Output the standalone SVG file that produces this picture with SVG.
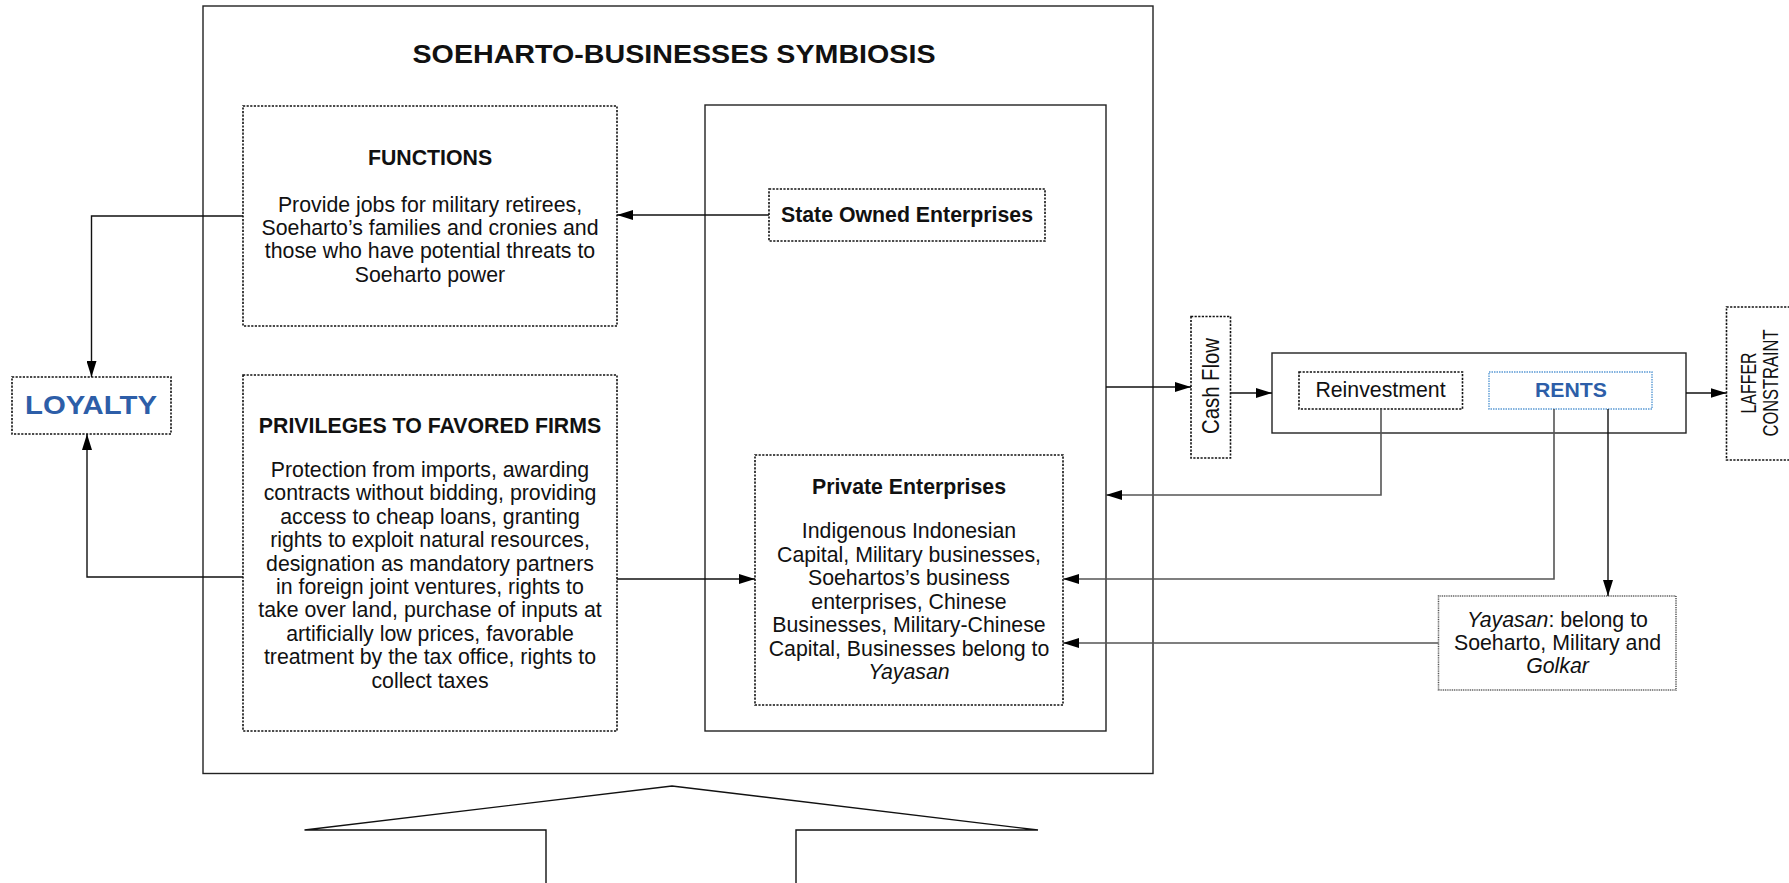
<svg xmlns="http://www.w3.org/2000/svg" width="1789" height="883" viewBox="0 0 1789 883">
<style>
text{font-family:"Liberation Sans",Arial,sans-serif;fill:#111;}
.t{font-size:21.3px;text-anchor:middle;}
.b{font-weight:bold;}
.blue{fill:#2d5ea8;}
.solid{fill:#fff;stroke:#222;stroke-width:1.4;}
.dot{fill:#fff;stroke:#111;stroke-width:1.6;stroke-dasharray:2.2 1.4;}
.dotb{fill:#fff;stroke:#5b9bd5;stroke-width:1.4;stroke-dasharray:1.5 1;}
.dotg{fill:#fff;stroke:#555;stroke-width:1.5;stroke-dasharray:1 0.8;}
.c{fill:none;stroke:#111;stroke-width:1.4;}
.cg{fill:none;stroke:#555;stroke-width:1.6;}
</style>
<defs>
<marker id="arr" markerWidth="16" markerHeight="10" refX="16" refY="5" orient="auto" markerUnits="userSpaceOnUse">
<path d="M0,0 L16,5 L0,10 z" fill="#000"/>
</marker>
</defs>
<rect width="1789" height="883" fill="#fff"/>

<g id="symbiosis">
<rect class="solid" x="203" y="6" width="950" height="767.5"/>
<text class="t b" x="674" y="63" style="font-size:26px" textLength="523" lengthAdjust="spacingAndGlyphs">SOEHARTO-BUSINESSES SYMBIOSIS</text>
</g>

<g id="enterprises">
<rect class="solid" x="705" y="105" width="401" height="626"/>
</g>

<g id="functions">
<rect class="dot" x="243" y="106" width="374" height="220"/>
<text class="t b" x="430" y="165">FUNCTIONS</text>
<text class="t" x="430" y="211.5">Provide jobs for military retirees,</text>
<text class="t" x="430" y="234.9">Soeharto’s families and cronies and</text>
<text class="t" x="430" y="258.3">those who have potential threats to</text>
<text class="t" x="430" y="281.7">Soeharto power</text>
</g>

<g id="privileges">
<rect class="dot" x="243" y="375" width="374" height="356"/>
<text class="t b" x="430" y="432.5">PRIVILEGES TO FAVORED FIRMS</text>
<text class="t" x="430" y="477">Protection from imports, awarding</text>
<text class="t" x="430" y="500.4">contracts without bidding, providing</text>
<text class="t" x="430" y="523.8">access to cheap loans, granting</text>
<text class="t" x="430" y="547.2">rights to exploit natural resources,</text>
<text class="t" x="430" y="570.6">designation as mandatory partners</text>
<text class="t" x="430" y="594">in foreign joint ventures, rights to</text>
<text class="t" x="430" y="617.4">take over land, purchase of inputs at</text>
<text class="t" x="430" y="640.8">artificially low prices, favorable</text>
<text class="t" x="430" y="664.2">treatment by the tax office, rights to</text>
<text class="t" x="430" y="687.6">collect taxes</text>
</g>

<g id="loyalty">
<rect class="dot" x="12" y="377" width="159" height="57"/>
<text class="t b blue" x="91" y="414" style="font-size:26.5px" textLength="132" lengthAdjust="spacingAndGlyphs">LOYALTY</text>
</g>

<g id="soe">
<rect class="dot" x="769" y="189" width="276" height="52"/>
<text class="t b" x="907" y="221.5">State Owned Enterprises</text>
</g>

<g id="private">
<rect class="dot" x="755" y="455" width="308" height="250"/>
<text class="t b" x="909" y="493.5">Private Enterprises</text>
<text class="t" x="909" y="538">Indigenous Indonesian</text>
<text class="t" x="909" y="561.5">Capital, Military businesses,</text>
<text class="t" x="909" y="585">Soehartos’s business</text>
<text class="t" x="909" y="608.5">enterprises, Chinese</text>
<text class="t" x="909" y="632">Businesses, Military-Chinese</text>
<text class="t" x="909" y="655.5">Capital, Businesses belong to</text>
<text class="t" x="909" y="679" font-style="italic">Yayasan</text>
</g>

<g id="cashflow">
<rect class="dot" x="1191" y="316.5" width="39.5" height="141.5"/>
<text class="t" transform="translate(1218.5,386) rotate(-90)" style="font-size:24px" textLength="96" lengthAdjust="spacingAndGlyphs">Cash Flow</text>
</g>

<g id="outcome">
<rect class="solid" x="1272" y="353" width="414" height="80"/>
</g>

<g id="reinvestment">
<rect class="dot" x="1299" y="372" width="163.5" height="37"/>
<text class="t" x="1380.5" y="397">Reinvestment</text>
</g>

<g id="rents">
<rect class="dotb" x="1489" y="372" width="163" height="37"/>
<text class="t b blue" x="1571" y="396.5" style="font-size:20px" textLength="72" lengthAdjust="spacingAndGlyphs">RENTS</text>
</g>

<g id="laffer">
<rect class="dot" x="1726.5" y="307" width="72" height="153"/>
<text class="t" transform="translate(1755.5,383) rotate(-90)" style="font-size:22px" textLength="61" lengthAdjust="spacingAndGlyphs">LAFFER</text>
<text class="t" transform="translate(1777.5,383) rotate(-90)" style="font-size:22px" textLength="107" lengthAdjust="spacingAndGlyphs">CONSTRAINT</text>
</g>

<g id="yayasan">
<rect class="dotg" x="1438.5" y="596" width="237.5" height="94"/>
<text class="t" x="1557.5" y="626.5"><tspan font-style="italic">Yayasan</tspan>: belong to</text>
<text class="t" x="1557.5" y="650">Soeharto, Military and</text>
<text class="t" x="1557.5" y="673.3" font-style="italic">Golkar</text>
</g>

<g id="support-arrow">
<path class="c" d="M546,883 V830 H304.5 L672,786 L1038,830 H796 V883"/>
</g>

<g id="connectors">
<path class="c" d="M769,215 H617" marker-end="url(#arr)"/>
<path class="c" d="M243,216 H91.5 V377" marker-end="url(#arr)"/>
<path class="c" d="M243,577 H87 V434" marker-end="url(#arr)"/>
<path class="c" d="M617,579 H755" marker-end="url(#arr)"/>
<path class="c" d="M1106,387 H1191" marker-end="url(#arr)"/>
<path class="c" d="M1230.5,393 H1272" marker-end="url(#arr)"/>
<path class="c" d="M1686,393 H1726.5" marker-end="url(#arr)"/>
<path class="cg" d="M1381,409 V495 H1106" marker-end="url(#arr)"/>
<path class="cg" d="M1554,409 V579 H1063" marker-end="url(#arr)"/>
<path class="c" d="M1608,409 V596" marker-end="url(#arr)"/>
<path class="cg" d="M1438.5,643 H1063" marker-end="url(#arr)"/>
</g>
</svg>
